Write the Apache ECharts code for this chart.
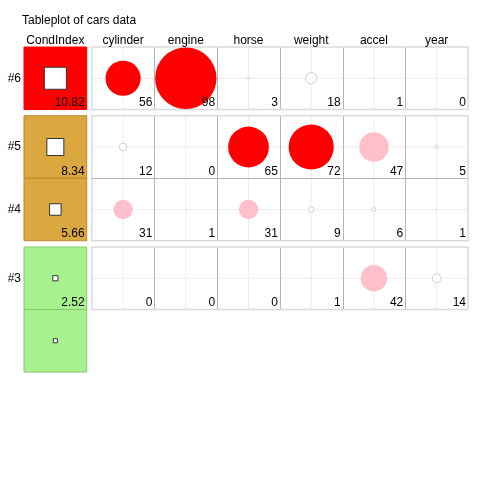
<!DOCTYPE html>
<html><head><meta charset="utf-8">
<script src="https://cdn.jsdelivr.net/npm/echarts@6/dist/echarts.min.js"></script>
<style>html,body{margin:0;padding:0;background:#fff}#c{width:480px;height:480px}</style>
</head><body><div id="c"></div>
<script>
const titleText = 'Tableplot of cars data';
const columns = ['CondIndex', 'cylinder', 'engine', 'horse', 'weight', 'accel', 'year'];
const rowLabels = ['#6', '#5', '#4', '#3', ''];
const rowGroups = [0, 1, 1, 2, 2];
const condIndex = [10.82, 8.34, 5.66, 2.52, 2.0];
const condLabels = ['10.82', '8.34', '5.66', '2.52', ''];
const cylinder = [56, 12, 31, 0];
const engine = [98, 0, 1, 0];
const horse = [3, 65, 31, 0];
const weight = [18, 72, 9, 1];
const accel = [1, 47, 6, 42];
const year = [0, 5, 1, 14];
const varValues = [cylinder, engine, horse, weight, accel, year];

const FONT = 'Liberation Sans, Arial, sans-serif';
const COL_GAP = 0.08, ROW_GAP = 0.1;
const colX = columns.map((c, i) => i === 0 ? 0 : 1 + COL_GAP + (i - 1));
const rowTop = rowLabels.map((r, i) => i + rowGroups[i] * ROW_GAP);
const nTableRows = cylinder.length;

function condColor(v) { return v > 10 ? '#FF0000' : (v > 5 ? '#DBA840' : '#A7F28E'); }
function condEdge(v) { return v > 10 ? '#FF0000' : (v > 5 ? '#B98A2C' : '#86C872'); }
function propColor(v) { return v >= 50 ? '#FF0000' : (v >= 30 ? '#FFC0CB' : '#FFFFFF'); }

// table cells
const cellData = [];
for (let r = 0; r < nTableRows; r++) {
  for (let c = 1; c < columns.length; c++) {
    cellData.push([colX[c] + 0.5, rowTop[r] + 0.5, varValues[c - 1][r], r, c]);
  }
}
const condData = condIndex.map((v, r) => [colX[0] + 0.5, rowTop[r] + 0.5, v, r]);

// groups of table rows for borders
const groups = [];
for (let r = 0; r < nTableRows; r++) {
  const g = rowGroups[r];
  if (!groups[g]) groups[g] = [r, r]; else groups[g][1] = r;
}
const groupData = groups.map(g => [colX[1], rowTop[g[0]], colX[columns.length - 1] + 1, rowTop[g[1]] + 1, g[0], g[1]]);

function cellBox(api) {
  const ctr = api.coord([api.value(0), api.value(1)]);
  const sz = api.size([1, 1]);
  return { cx: ctr[0], cy: ctr[1], w: sz[0], h: sz[1], x0: ctr[0] - sz[0] / 2, y0: ctr[1] - sz[1] / 2 };
}

const option = {
  animation: false,
  title: { text: titleText, left: 22, top: 15, padding: 0,
    textStyle: { fontFamily: FONT, fontSize: 12, fontWeight: 'normal', color: '#000' } },
  grid: { left: 24, right: 12, top: 47, bottom: 108 },
  xAxis: { type: 'value', min: 0, max: colX[columns.length - 1] + 1, show: false },
  yAxis: { type: 'value', min: 0, max: rowTop[rowLabels.length - 1] + 1, inverse: true, show: false },
  series: [
    { // backgrounds + light grid
      type: 'custom', z: 1, data: cellData, encode: { x: 0, y: 1 },
      renderItem(params, api) {
        const b = cellBox(api);
        return { type: 'group', children: [
          { type: 'rect', shape: { x: b.x0, y: b.y0, width: b.w, height: b.h }, style: { fill: '#fff' } },
          { type: 'line', shape: { x1: b.cx, y1: b.y0, x2: b.cx, y2: b.y0 + b.h }, style: { stroke: '#EEEEEE', lineWidth: 1 } },
          { type: 'line', shape: { x1: b.x0, y1: b.cy, x2: b.x0 + b.w, y2: b.cy }, style: { stroke: '#EEEEEE', lineWidth: 1 } }
        ] };
      }
    },
    { // group borders and separators
      type: 'custom', z: 2, data: groupData, encode: { x: [0, 2], y: [1, 3] },
      renderItem(params, api) {
        const p0 = api.coord([api.value(0), api.value(1)]);
        const p1 = api.coord([api.value(2), api.value(3)]);
        const r0 = api.value(4), r1 = api.value(5);
        const ch = [];
        for (let c = 2; c < columns.length; c++) {
          const x = Math.round(api.coord([colX[c], 0])[0]) + 0.5;
          ch.push({ type: 'line', shape: { x1: x, y1: p0[1], x2: x, y2: p1[1] }, style: { stroke: '#B4B4B4', lineWidth: 1 } });
        }
        for (let r = r0 + 1; r <= r1; r++) {
          const y = Math.round(api.coord([0, rowTop[r]])[1]) + 0.5;
          ch.push({ type: 'line', shape: { x1: p0[0], y1: y, x2: p1[0], y2: y }, style: { stroke: '#B4B4B4', lineWidth: 1 } });
        }
        ch.push({ type: 'rect', shape: { x: p0[0], y: p0[1], width: p1[0] - p0[0], height: p1[1] - p0[1] },
          style: { fill: 'none', stroke: '#DADADA', lineWidth: 1.5 } });
        return { type: 'group', children: ch };
      }
    },
    { // circles and value labels
      type: 'custom', z: 3, data: cellData, encode: { x: 0, y: 1 },
      renderItem(params, api) {
        const b = cellBox(api);
        const v = api.value(2);
        const rad = v / 100 * b.w / 2;
        const ch = [];
        if (v > 0) {
          ch.push({ type: 'circle', shape: { cx: b.cx, cy: b.cy, r: rad },
            style: { fill: propColor(v), stroke: v >= 30 ? propColor(v) : '#D0D0D0', lineWidth: v >= 30 ? 0 : 1 } });
        }
        ch.push({ type: 'text', style: { text: String(v), x: b.x0 + b.w - 2, y: b.y0 + b.h - 1,
          align: 'right', verticalAlign: 'bottom', fontFamily: FONT, fontSize: 12, fill: '#000' } });
        return { type: 'group', children: ch };
      }
    },
    { // condition index column
      type: 'custom', z: 3, data: condData, encode: { x: 0, y: 1 },
      renderItem(params, api) {
        const b = cellBox(api);
        const v = api.value(2), r = api.value(3);
        const side = v * 0.0325 * b.w;
        const ch = [
          { type: 'rect', shape: { x: b.x0, y: b.y0, width: b.w, height: b.h },
            style: { fill: condColor(v), stroke: condEdge(v), lineWidth: 1 } },
          { type: 'rect', shape: { x: b.cx - side / 2, y: b.cy - side / 2, width: side, height: side },
            style: { fill: '#fff', stroke: '#333', lineWidth: 1 } }
        ];
        if (condLabels[r]) ch.push({ type: 'text', style: { text: condLabels[r], x: b.x0 + b.w - 2, y: b.y0 + b.h - 1,
          align: 'right', verticalAlign: 'bottom', fontFamily: FONT, fontSize: 12, fill: '#000' } });
        if (rowLabels[r]) ch.push({ type: 'text', style: { text: rowLabels[r], x: b.x0 - 3, y: b.cy,
          align: 'right', verticalAlign: 'middle', fontFamily: FONT, fontSize: 12, fill: '#000' } });
        if (r === 0) {
          for (let c = 0; c < columns.length; c++) {
            const x = api.coord([colX[c] + 0.5, 0])[0];
            ch.push({ type: 'text', style: { text: columns[c], x: x, y: b.y0 - 6,
              align: 'center', verticalAlign: 'middle', fontFamily: FONT, fontSize: 12, fill: '#000' } });
          }
        }
        return { type: 'group', children: ch };
      }
    }
  ]
};
const chart = echarts.init(document.getElementById('c'), null, { renderer: 'canvas' });
chart.setOption(option);
</script>
</body></html>
